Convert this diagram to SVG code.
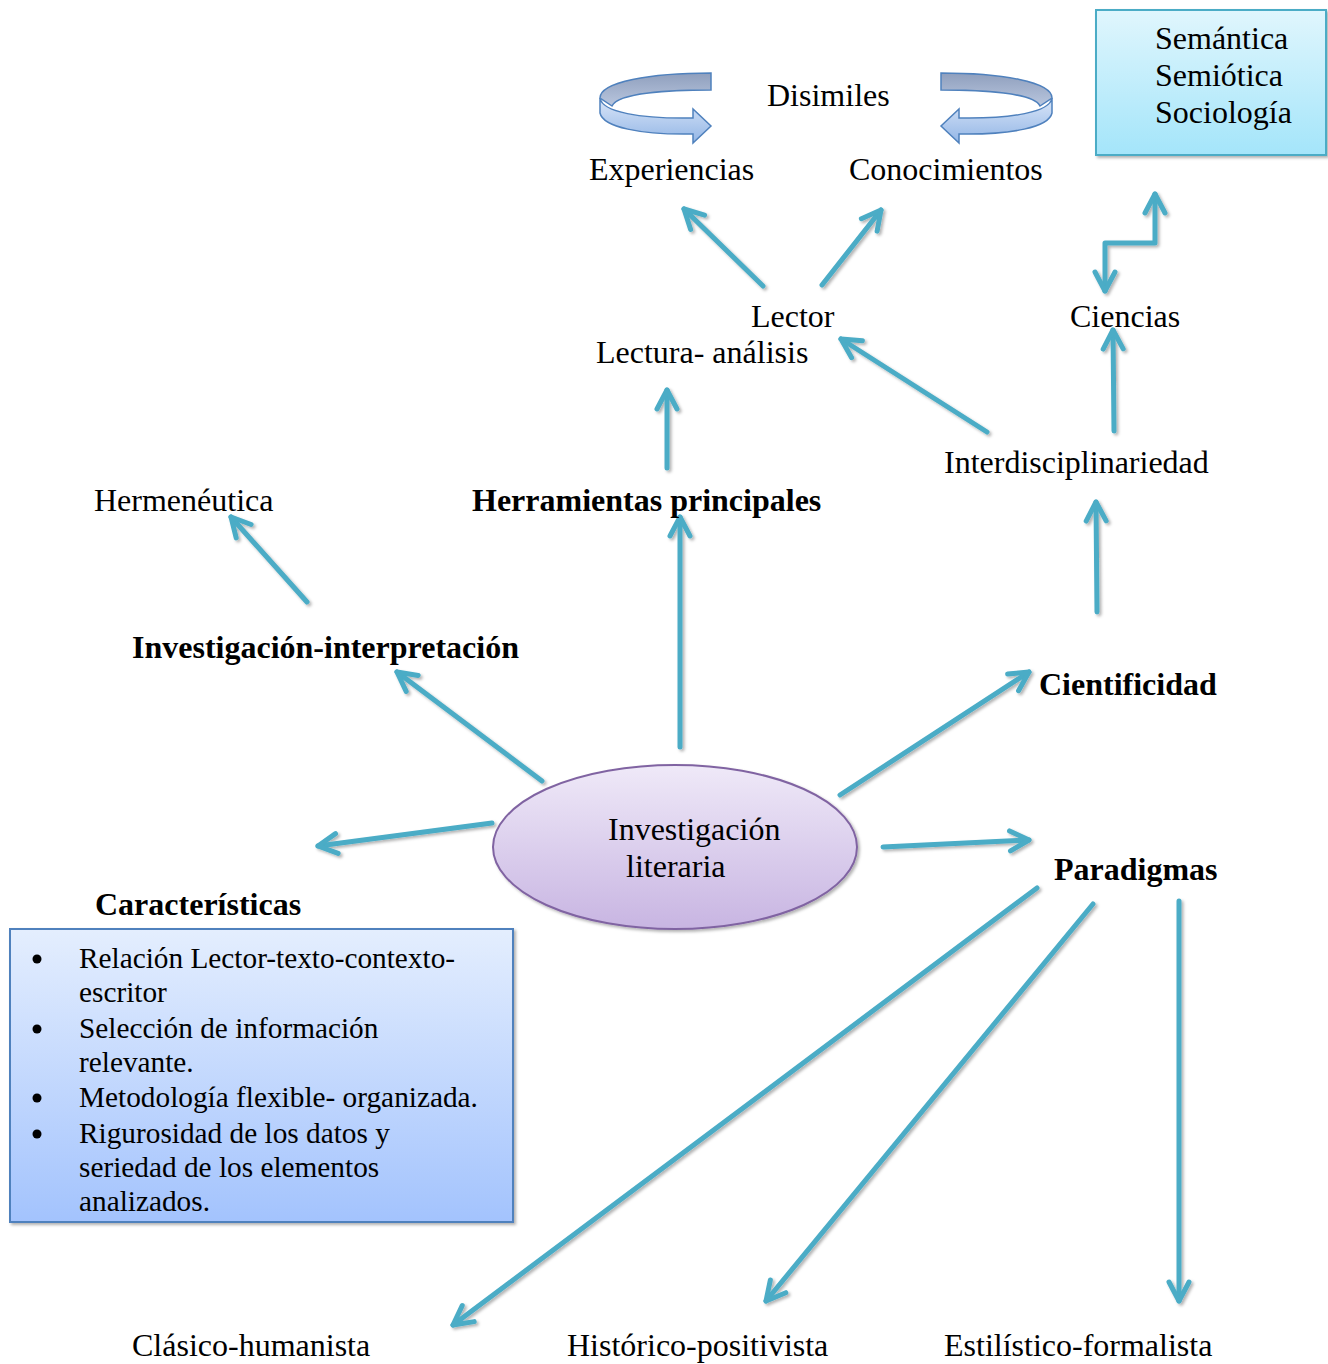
<svg xmlns="http://www.w3.org/2000/svg" width="1328" height="1364" viewBox="0 0 1328 1364">
  <style>
    text { font-family: "Liberation Serif", "Times New Roman", serif; fill: #000; }
    .t { font-size: 32px; }
    .b { font-size: 32px; font-weight: bold; }
    .s { font-size: 29.3px; }
    .conn { fill: none; stroke: #4BACC6; stroke-width: 5; stroke-linecap: round; stroke-linejoin: round; }
  </style>
  <defs>
    <marker id="head" viewBox="-24 -14 30 28" markerWidth="30" markerHeight="28" refX="0" refY="0" orient="auto-start-reverse" markerUnits="userSpaceOnUse">
      <path d="M -19,-10 L 0,0 L -19,10" fill="none" stroke="#4BACC6" stroke-width="5" stroke-linecap="round" stroke-linejoin="round"/>
    </marker>
    <filter id="shadow" x="-10%" y="-10%" width="120%" height="120%">
      <feDropShadow dx="2" dy="2" stdDeviation="1.5" flood-color="#000" flood-opacity="0.3"/>
    </filter>
    <linearGradient id="ovalFill" x1="0" y1="0" x2="0" y2="1">
      <stop offset="0" stop-color="#efe9f8"/>
      <stop offset="1" stop-color="#c8b5e2"/>
    </linearGradient>
    <linearGradient id="listFill" x1="0" y1="0" x2="0" y2="1">
      <stop offset="0" stop-color="#e4eefe"/>
      <stop offset="1" stop-color="#a3c3fd"/>
    </linearGradient>
    <linearGradient id="cyanFill" x1="0" y1="0" x2="0" y2="1">
      <stop offset="0" stop-color="#e0f6fd"/>
      <stop offset="1" stop-color="#a4e5fa"/>
    </linearGradient>
    <linearGradient id="bandBack" x1="0" y1="0" x2="0" y2="1">
      <stop offset="0" stop-color="#8f9fbd"/>
      <stop offset="1" stop-color="#b9c6de"/>
    </linearGradient>
    <linearGradient id="bandFront" x1="0" y1="0" x2="0" y2="1">
      <stop offset="0" stop-color="#dae6f8"/>
      <stop offset="1" stop-color="#93b6e6"/>
    </linearGradient>
    <!-- circular ribbon arrow, pointing right -->
    <g id="loop">
      <path d="M 711,73 L 711,90 C 670,90 618,93 612,106 L 600,98 C 600,82 650,73 711,73 Z" fill="url(#bandBack)" stroke="#4f81bd" stroke-width="1.5"/>
      <path d="M 600,98 C 602,112 640,119 693,118 L 693,109 L 711,126 L 693,143 L 693,134 C 640,135 603,127 600,113 Z" fill="url(#bandFront)" stroke="#4f81bd" stroke-width="1.5"/>
    </g>
  </defs>

  <!-- connectors -->
  <g id="connectors" filter="url(#shadow)">
    <line class="conn" x1="763" y1="286" x2="684" y2="209" marker-end="url(#head)"/>
    <line class="conn" x1="822" y1="285" x2="881" y2="210" marker-end="url(#head)"/>
    <line class="conn" x1="667" y1="468" x2="667" y2="390" marker-end="url(#head)"/>
    <line class="conn" x1="987" y1="432" x2="841" y2="339" marker-end="url(#head)"/>
    <line class="conn" x1="1114" y1="431" x2="1113" y2="330" marker-end="url(#head)"/>
    <path class="conn" d="M 1105,291 L 1105,243 L 1155,243 L 1155,194" marker-start="url(#head)" marker-end="url(#head)"/>
    <line class="conn" x1="1097" y1="612" x2="1096" y2="502" marker-end="url(#head)"/>
    <line class="conn" x1="680" y1="747" x2="680" y2="517" marker-end="url(#head)"/>
    <line class="conn" x1="307" y1="602" x2="231" y2="517" marker-end="url(#head)"/>
    <line class="conn" x1="542" y1="781" x2="397" y2="672" marker-end="url(#head)"/>
    <line class="conn" x1="840" y1="795" x2="1029" y2="672" marker-end="url(#head)"/>
    <line class="conn" x1="492" y1="823" x2="318" y2="846" marker-end="url(#head)"/>
    <line class="conn" x1="883" y1="847" x2="1029" y2="840" marker-end="url(#head)"/>
    <line class="conn" x1="1037" y1="888" x2="453" y2="1325" marker-end="url(#head)"/>
    <line class="conn" x1="1093" y1="904" x2="766" y2="1301" marker-end="url(#head)"/>
    <line class="conn" x1="1179" y1="901" x2="1179" y2="1301" marker-end="url(#head)"/>
  </g>

  <!-- top: Disimiles with ribbon arrows -->
  <g id="disimiles">
    <use href="#loop"/>
    <use href="#loop" transform="translate(1652,0) scale(-1,1)"/>
    <text class="t" x="767" y="106">Disimiles</text>
  </g>
  <g id="experiencias"><text class="t" x="589" y="180">Experiencias</text></g>
  <g id="conocimientos"><text class="t" x="849" y="180">Conocimientos</text></g>

  <g id="disciplinas">
    <rect x="1096" y="10" width="230" height="145" fill="url(#cyanFill)" stroke="#4BACC6" stroke-width="2" filter="url(#shadow)"/>
    <text class="t" x="1155" y="49">Semántica</text>
    <text class="t" x="1155" y="86">Semiótica</text>
    <text class="t" x="1155" y="123">Sociología</text>
  </g>

  <g id="lector"><text class="t" x="751" y="327">Lector</text></g>
  <g id="lectura"><text class="t" x="596" y="363">Lectura- análisis</text></g>
  <g id="ciencias"><text class="t" x="1070" y="327">Ciencias</text></g>
  <g id="interdisciplinariedad"><text class="t" x="944" y="473">Interdisciplinariedad</text></g>
  <g id="hermeneutica"><text class="t" x="94" y="511">Hermenéutica</text></g>
  <g id="herramientas"><text class="b" x="472" y="511">Herramientas principales</text></g>
  <g id="investigacion-interpretacion"><text class="b" x="132" y="658">Investigación-interpretación</text></g>
  <g id="cientificidad"><text class="b" x="1039" y="695">Cientificidad</text></g>

  <g id="investigacion-literaria">
    <ellipse cx="675" cy="847" rx="182" ry="82" fill="url(#ovalFill)" stroke="#8064a2" stroke-width="2" filter="url(#shadow)"/>
    <text class="t" x="608" y="840">Investigación</text>
    <text class="t" x="626" y="877">literaria</text>
  </g>

  <g id="paradigmas"><text class="b" x="1054" y="880">Paradigmas</text></g>

  <g id="caracteristicas">
    <text class="b" x="95" y="915">Características</text>
    <rect x="10" y="929" width="503" height="293" fill="url(#listFill)" stroke="#4f81bd" stroke-width="2" filter="url(#shadow)"/>
    <circle cx="37" cy="959" r="4.5" fill="#000"/>
    <circle cx="37" cy="1029" r="4.5" fill="#000"/>
    <circle cx="37" cy="1098" r="4.5" fill="#000"/>
    <circle cx="37" cy="1134" r="4.5" fill="#000"/>
    <text class="s" x="79" y="968">Relación Lector-texto-contexto-</text>
    <text class="s" x="79" y="1002">escritor</text>
    <text class="s" x="79" y="1038">Selección de información</text>
    <text class="s" x="79" y="1072">relevante.</text>
    <text class="s" x="79" y="1107">Metodología flexible- organizada.</text>
    <text class="s" x="79" y="1143">Rigurosidad de los datos y</text>
    <text class="s" x="79" y="1177">seriedad de los elementos</text>
    <text class="s" x="79" y="1211">analizados.</text>
  </g>

  <g id="clasico"><text class="t" x="132" y="1356">Clásico-humanista</text></g>
  <g id="historico"><text class="t" x="567" y="1356">Histórico-positivista</text></g>
  <g id="estilistico"><text class="t" x="944" y="1356">Estilístico-formalista</text></g>
</svg>
